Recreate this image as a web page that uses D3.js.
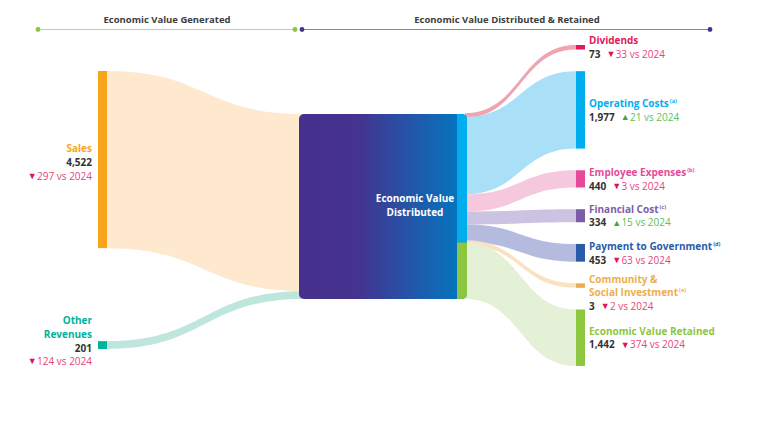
<!DOCTYPE html>
<html><head><meta charset="utf-8">
<script src="https://cdn.jsdelivr.net/npm/d3@7"></script>
<style>
body{margin:0;background:#fff;}
svg{display:block;font-family:"Open Sans",sans-serif;}
</style>
</head><body><svg id="c" width="768" height="448"></svg>
<script>
// ---------- data ----------
const headers = ["Economic Value Generated", "Economic Value Distributed & Retained"];
const sourceNames = [["Sales"], ["Other", "Revenues"]];
const sourceValues = [4522, 201];
const sourceChanges = [-297, -124];
const centralName = ["Economic Value", "Distributed"];
const targetNames = [["Dividends"], ["Operating Costs"], ["Employee Expenses"], ["Financial Cost"],
  ["Payment to Government"], ["Community &", "Social Investment"], ["Economic Value Retained"]];
const targetNotes = ["", "(a)", "(b)", "(c)", "(d)", "(e)", ""];
const targetValues = [73, 1977, 440, 334, 453, 3, 1442];
const targetChanges = [-33, 21, -3, 15, -63, -2, -374];
const compareYear = "2024";

// ---------- styles ----------
const sourceColors = ["#f9a51c", "#00b39b"];
const sourceLinkColors = ["#fee9cf", "#bfe6dd"];
const targetColors = ["#e2185b", "#00aeef", "#e84a9a", "#7b5ea7", "#2b5ba8", "#eeae4f", "#8dc63f"];
const targetLinkColors = ["#f1a3b2", "#aadff8", "#f6c8de", "#cac4e2", "#b5badf", "#fae2c0", "#e4f1d6"];
const downText = "#e8437c", downTri = "#d8145a", upText = "#5cbf5c", upTri = "#3aa845";
const darkText = "#333333";
const LH = 13.7; // line height

const svg = d3.select("#c");
const defs = svg.append("defs");

// ---------- layout ----------
const total = d3.sum(sourceValues);
const h = d3.scaleLinear().domain([0, total]).range([0, 185]);
const minH = 4.5;

const leftX0 = 98, leftX1 = 107;
const cx0 = 299, cx1 = 467, barW = 10, cTop = 114;
const rightX0 = 576, rightX1 = 585;

// left nodes
const leftPad = 93;
let yy = 71;
const leftNodes = sourceValues.map((v, i) => {
  const n = {y0: yy, y1: yy + h(v), v};
  yy = n.y1 + leftPad;
  return n;
});
// central
const cBottom = cTop + h(total);
// right nodes
const rTop = 45, rBottom = 366;
const rH = targetValues.map(v => Math.max(h(v), minH));
const rPad = (rBottom - rTop - d3.sum(rH)) / (targetValues.length - 1);
yy = rTop;
const rightNodes = targetValues.map((v, i) => {
  const n = {y0: yy, y1: yy + rH[i]};
  yy = n.y1 + rPad;
  return n;
});

function band(x0, a0, a1, x1, b0, b1) {
  const xm = (x0 + x1) / 2;
  return `M${x0},${a0}C${xm},${a0} ${xm},${b0} ${x1},${b0}L${x1},${b1}C${xm},${b1} ${xm},${a1} ${x0},${a1}Z`;
}

// ---------- links ----------
const gLinks = svg.append("g");
let cy = cTop;
leftNodes.forEach((n, i) => {
  const w = h(sourceValues[i]);
  gLinks.append("path")
    .attr("d", band(leftX1, n.y0, n.y1, cx0 + 4, cy, cy + w))
    .attr("fill", sourceLinkColors[i]);
  cy += w;
});
cy = cTop;
rightNodes.forEach((n, i) => {
  const w = h(targetValues[i]);
  const vw = Math.max(w, minH);
  const sc = cy + w / 2;
  const tc = (n.y0 + n.y1) / 2;
  gLinks.append("path")
    .attr("d", band(cx1 - 2, sc - vw / 2, sc + vw / 2, rightX0, tc - vw / 2, tc + vw / 2))
    .attr("fill", targetLinkColors[i]);
  cy += w;
});

// ---------- central node ----------
const grad = defs.append("linearGradient").attr("id", "cg").attr("x1", "0%").attr("x2", "100%");
grad.append("stop").attr("offset", "0%").attr("stop-color", "#472f8d");
grad.append("stop").attr("offset", "35%").attr("stop-color", "#44338f");
grad.append("stop").attr("offset", "100%").attr("stop-color", "#007ac2");
defs.append("clipPath").attr("id", "cc").append("rect")
  .attr("x", cx0).attr("y", cTop).attr("width", cx1 - cx0).attr("height", cBottom - cTop).attr("rx", 5);
const gC = svg.append("g").attr("clip-path", "url(#cc)");
gC.append("rect").attr("x", cx0).attr("y", cTop).attr("width", cx1 - cx0).attr("height", cBottom - cTop)
  .attr("fill", "url(#cg)");
const distributed = d3.sum(targetValues.slice(0, 6));
gC.append("rect").attr("x", cx1 - barW).attr("y", cTop).attr("width", barW).attr("height", h(distributed))
  .attr("fill", "#00aeef");
gC.append("rect").attr("x", cx1 - barW).attr("y", cTop + h(distributed)).attr("width", barW)
  .attr("height", h(targetValues[6])).attr("fill", "#8dc63f");
const cMid = (cTop + cBottom) / 2;
centralName.forEach((d, i) => {
  svg.append("text").attr("x", 415).attr("y", cMid - 4.5 + i * LH).attr("text-anchor", "middle")
    .attr("fill", "#fff").attr("font-weight", 700).attr("font-size", 10).text(d);
});

// ---------- nodes ----------
leftNodes.forEach((n, i) => {
  svg.append("rect").attr("x", leftX0).attr("y", n.y0).attr("width", leftX1 - leftX0)
    .attr("height", Math.max(n.y1 - n.y0, minH)).attr("fill", sourceColors[i]);
});
rightNodes.forEach((n, i) => {
  svg.append("rect").attr("x", rightX0).attr("y", n.y0).attr("width", rightX1 - rightX0)
    .attr("height", n.y1 - n.y0).attr("fill", targetColors[i]);
});

const fmt = d3.format(",");

function changeSpans(t, ch, lead) {
  t.append("tspan").attr("dx", lead).attr("dy", -0.8).attr("font-size", 9)
    .attr("fill", ch < 0 ? downTri : upTri).text(ch < 0 ? "▼" : "▲");
  t.append("tspan").attr("dx", 0.3).attr("dy", 0.8).attr("font-size", 10)
    .attr("fill", ch < 0 ? downText : upText).text(Math.abs(ch) + " vs " + compareYear);
}

// ---------- left labels ----------
leftNodes.forEach((n, i) => {
  const c = (n.y0 + n.y1) / 2;
  const vb = c + 6.5;
  const g = svg.append("g").attr("text-anchor", "end").attr("font-size", 10);
  const lines = sourceNames[i];
  lines.forEach((l, k) => {
    g.append("text").attr("x", 92).attr("y", vb - (lines.length - k) * LH)
      .attr("fill", sourceColors[i]).attr("font-weight", 700).text(l);
  });
  g.append("text").attr("x", 92).attr("y", vb).attr("fill", darkText).attr("font-weight", 700)
    .text(fmt(sourceValues[i]));
  const t = g.append("text").attr("x", 92).attr("y", vb + LH);
  changeSpans(t, sourceChanges[i], 0);
});

// ---------- right labels ----------
rightNodes.forEach((n, i) => {
  const c = (n.y0 + n.y1) / 2;
  const g = svg.append("g").attr("font-size", 10);
  const lines = targetNames[i];
  let b = c - 3;
  lines.forEach((l, k) => {
    const t = g.append("text").attr("x", 589).attr("y", b).attr("fill", targetColors[i])
      .attr("font-weight", 700).text(l);
    if (k === lines.length - 1 && targetNotes[i]) {
      t.append("tspan").attr("font-size", 5.5).attr("dy", -4).attr("dx", 1).text(targetNotes[i]);
    }
    if (k < lines.length - 1) b += LH;
  });
  const vb = b + LH;
  const t = g.append("text").attr("x", 589).attr("y", vb);
  t.append("tspan").attr("fill", darkText).attr("font-weight", 700).text(fmt(targetValues[i]));
  changeSpans(t, targetChanges[i], 6);
});

// ---------- headers ----------
const hdr = [{x0: 38, x1: 295, line: "#b3db80", dot: "#8dc63f"}, {x0: 302, x1: 710, line: "#8a7fc6", dot: "#47318f"}];
hdr.forEach((d, i) => {
  svg.append("line").attr("x1", d.x0).attr("x2", d.x1).attr("y1", 29.5).attr("y2", 29.5)
    .attr("stroke", d.line).attr("stroke-width", 1.2);
  [d.x0, d.x1].forEach(x => svg.append("circle").attr("cx", x).attr("cy", 29.5).attr("r", 2.4).attr("fill", d.dot));
  svg.append("text").attr("x", i ? 507 : 167).attr("y", 23).attr("text-anchor", "middle")
    .attr("font-size", 9.5).attr("font-weight", 700).attr("fill", "#3d3d3d").text(headers[i]);
});
</script>
</body></html>
